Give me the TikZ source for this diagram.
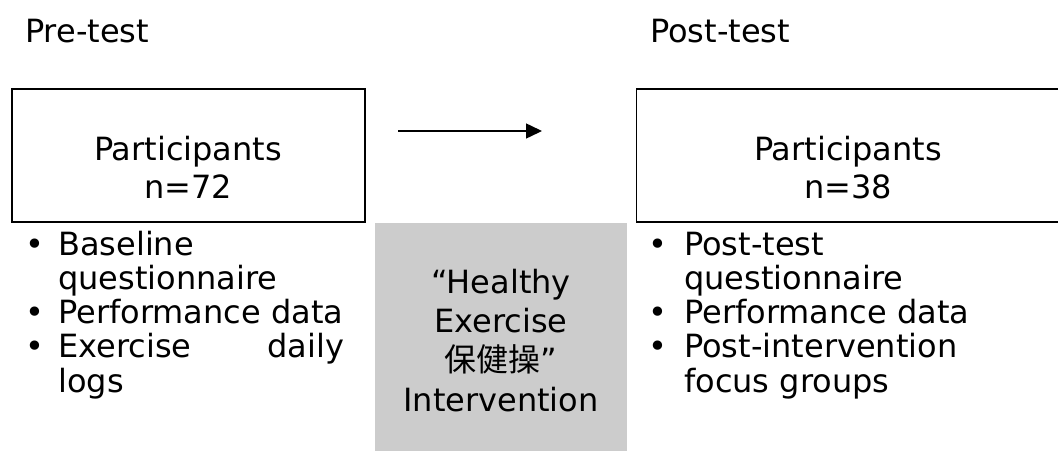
\documentclass[tikz,border=0pt]{standalone}
\usepackage{fontspec}
\setmainfont{DejaVu Sans}
\newfontfamily\cjk{Noto Sans CJK SC}
\usetikzlibrary{arrows.meta}
\definecolor{graybox}{RGB}{204,204,204}
\tikzset{
  txt/.style={inner sep=0pt, anchor=base west, font=\fontsize{32}{38}\selectfont},
  ctxt/.style={inner sep=0pt, anchor=base, font=\fontsize{32}{38}\selectfont},
  bul/.style={inner sep=0pt, anchor=base, font=\fontsize{32}{38}\selectfont},
  framebox/.style={draw=black, line width=1.5pt, inner sep=0pt},
  shadebox/.style={fill=graybox, draw=none, inner sep=0pt},
  flow/.style={line width=1.5pt, -{Triangle[length=16pt,width=15pt]}}
}
\begin{document}
\begin{tikzpicture}[x=1pt,y=-1pt]
\useasboundingbox (0,0) rectangle (1058,450);
\clip (0,0) rectangle (1058,450);
\fill[white] (0,0) rectangle (1058,450);

% headings
\node[txt] (pre) at (25,42) {Pre-test};
\node[txt] (post) at (650,42) {Post-test};

% boxes
\node[framebox, minimum width=353pt, minimum height=133pt] (prebox) at (188.5,155.5) {};
\node[framebox, minimum width=428pt, minimum height=133pt] (postbox) at (850.5,155.5) {};
\node[shadebox, minimum width=252pt, minimum height=240pt] (interv) at (501,343) {};

% arrow
\coordinate (a1) at (398,131);
\coordinate (a2) at (542,131);
\draw[flow] (a1) -- (a2);

% box texts
\node[ctxt] (p1) at (188,160) {Participants};
\node[ctxt] (p2) at (188,198) {n=72};
\node[ctxt] (q1) at (848,160) {Participants};
\node[ctxt] (q2) at (848,198) {n=38};

% intervention text
\node[ctxt] (h1) at (501,293) {“Healthy};
\node[ctxt] (h2) at (501,332) {Exercise};
\node[ctxt] (h3) at (501,371) {{\cjk 保健操}”};
\node[ctxt] (h4) at (501,411) {Intervention};

% left bullets
\node[bul] (lb1) at (35,255) {•};
\node[txt] (l1) at (58,255) {Baseline};
\node[txt] (l2) at (58,289.3) {questionnaire};
\node[bul] (lb2) at (35,323.6) {•};
\node[txt] (l3) at (58,323.6) {Performance data};
\node[bul] (lb3) at (35,357.9) {•};
\node[txt] (l4) at (58,357.9) {\hbox to 286pt{Exercise\hfill daily}};
\node[txt] (l5) at (58,392.2) {logs};

% right bullets
\node[bul] (rb1) at (658,255) {•};
\node[txt] (r1) at (684,255) {Post-test};
\node[txt] (r2) at (684,289.3) {questionnaire};
\node[bul] (rb2) at (658,323.6) {•};
\node[txt] (r3) at (684,323.6) {Performance data};
\node[bul] (rb3) at (658,357.9) {•};
\node[txt] (r4) at (684,357.9) {Post-intervention};
\node[txt] (r5) at (684,392.2) {focus groups};
\end{tikzpicture}
\end{document}
